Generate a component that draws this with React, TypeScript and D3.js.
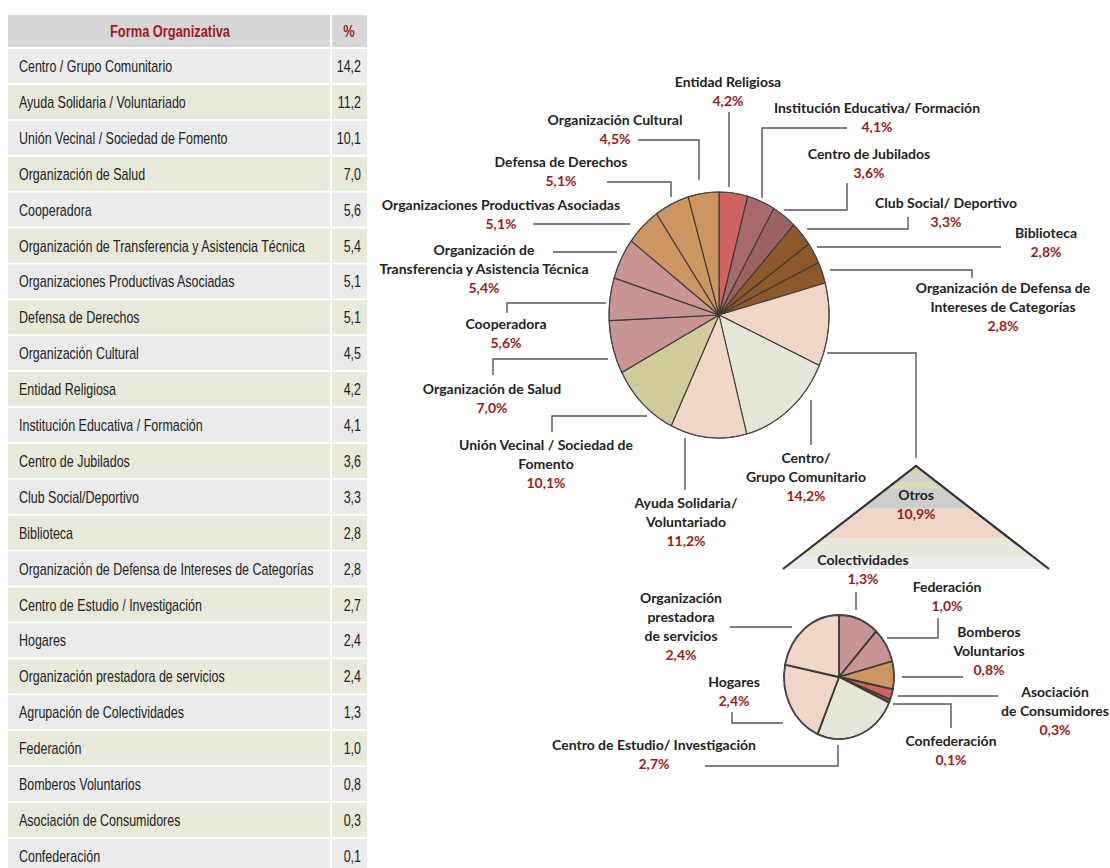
import React from "react";
import * as d3 from "d3";

// ---------- DATA ----------
const tableLabels = [
  "Centro / Grupo Comunitario",
  "Ayuda Solidaria / Voluntariado",
  "Unión Vecinal / Sociedad de Fomento",
  "Organización de Salud",
  "Cooperadora",
  "Organización de Transferencia y Asistencia Técnica",
  "Organizaciones Productivas Asociadas",
  "Defensa de Derechos",
  "Organización Cultural",
  "Entidad Religiosa",
  "Institución Educativa / Formación",
  "Centro de Jubilados",
  "Club Social/Deportivo",
  "Biblioteca",
  "Organización de Defensa de Intereses de Categorías",
  "Centro de Estudio / Investigación",
  "Hogares",
  "Organización prestadora de servicios",
  "Agrupación de Colectividades",
  "Federación",
  "Bomberos Voluntarios",
  "Asociación de Consumidores",
  "Confederación",
];
const tableValues = [14.2, 11.2, 10.1, 7.0, 5.6, 5.4, 5.1, 5.1, 4.5, 4.2, 4.1, 3.6, 3.3, 2.8, 2.8, 2.7, 2.4, 2.4, 1.3, 1.0, 0.8, 0.3, 0.1];

const mainCategories = [
  "Entidad Religiosa",
  "Institución Educativa / Formación",
  "Centro de Jubilados",
  "Club Social / Deportivo",
  "Biblioteca",
  "Organización de Defensa de Intereses de Categorías",
  "Otros",
  "Centro / Grupo Comunitario",
  "Ayuda Solidaria / Voluntariado",
  "Unión Vecinal / Sociedad de Fomento",
  "Organización de Salud",
  "Cooperadora",
  "Organización de Transferencia y Asistencia Técnica",
  "Organizaciones Productivas Asociadas",
  "Defensa de Derechos",
  "Organización Cultural",
];
const mainValues = [4.2, 4.1, 3.6, 3.3, 2.8, 2.8, 10.9, 14.2, 11.2, 10.1, 7.0, 5.6, 5.4, 5.1, 5.1, 4.5];

const otrosCategories = [
  "Colectividades",
  "Federación",
  "Bomberos Voluntarios",
  "Asociación de Consumidores",
  "Confederación",
  "Centro de Estudio / Investigación",
  "Hogares",
  "Organización prestadora de servicios",
];
const otrosValues = [1.3, 1.0, 0.8, 0.3, 0.1, 2.7, 2.4, 2.4];

// ---------- STYLES / LAYOUT ----------
const RED = "#d06262";
const MAUVE1 = "#a86a6a";
const MAUVE2 = "#9c6262";
const BROWN = "#8e5a2c";
const PEACH = "#f0d6c7";
const GREY_GREEN = "#e6e6d8";
const OLIVE = "#cfcb9b";
const PINK = "#c99494";
const TAN = "#cc9562";

const mainColors = [RED, MAUVE1, MAUVE2, BROWN, BROWN, BROWN, PEACH, GREY_GREEN, PEACH, OLIVE, PINK, PINK, PINK, TAN, TAN, TAN];
const otrosColors = [PINK, PINK, TAN, RED, BROWN, GREY_GREEN, PEACH, PEACH];

const PCT_COLOR = "#9b1c1c";
const TXT_COLOR = "#222";
const LINE_COLOR = "#555";

const fmtPct = (v: number) => d3.format(".1f")(v).replace(".", ",") + "%";

type Ann = { i: number; x: number; y: number; lines: string[]; leader: [number, number][]; lh?: number };

const mainAnn: Ann[] = [
  { i: 0, x: 728, y: 87, lines: ["Entidad Religiosa"], leader: [[729, 112], [729, 187]] },
  { i: 1, x: 877, y: 113, lines: ["Institución Educativa/ Formación"], leader: [[847, 128], [762, 128], [762, 198]] },
  { i: 2, x: 869, y: 159, lines: ["Centro de Jubilados"], leader: [[847, 183], [847, 210], [784, 210]] },
  { i: 3, x: 946, y: 208, lines: ["Club Social/ Deportivo"], leader: [[908, 217], [908, 229], [807, 229]] },
  { i: 4, x: 1046, y: 238, lines: ["Biblioteca"], leader: [[1001, 247], [817, 247]] },
  { i: 5, x: 1003, y: 293, lines: ["Organización de Defensa de", "Intereses de Categorías"], leader: [[972, 278], [972, 270], [830, 270]] },
  { i: 7, x: 806, y: 463, lines: ["Centro/", "Grupo Comunitario"], leader: [[811, 400], [811, 445]] },
  { i: 8, x: 686, y: 508, lines: ["Ayuda Solidaria/", "Voluntariado"], leader: [[685, 438], [685, 490]] },
  { i: 9, x: 546, y: 450, lines: ["Unión Vecinal / Sociedad de", "Fomento"], leader: [[552, 432], [552, 416], [647, 416]] },
  { i: 10, x: 492, y: 394, lines: ["Organización de Salud"], leader: [[493, 375], [493, 359], [608, 359]] },
  { i: 11, x: 506, y: 329, lines: ["Cooperadora"], leader: [[507, 313], [507, 303], [606, 303]] },
  { i: 12, x: 484, y: 255, lines: ["Organización de", "Transferencia y Asistencia Técnica"], leader: [[553, 252], [617, 252]] },
  { i: 13, x: 501, y: 210, lines: ["Organizaciones Productivas Asociadas"], leader: [[533, 224], [630, 224]] },
  { i: 14, x: 561, y: 167, lines: ["Defensa de Derechos"], leader: [[607, 182], [671, 182], [671, 197]] },
  { i: 15, x: 615, y: 125, lines: ["Organización Cultural"], leader: [[638, 140], [699, 140], [699, 180]] },
];

const otrosAnn: Ann[] = [
  { i: 0, x: 863, y: 565, lines: ["Colectividades"], leader: [[856, 592], [856, 610]] },
  { i: 1, x: 947, y: 592, lines: ["Federación"], leader: [[938, 618], [938, 638], [887, 638]] },
  { i: 2, x: 989, y: 637, lines: ["Bomberos", "Voluntarios"], leader: [[963, 677], [902, 677]] },
  { i: 3, x: 1055, y: 697, lines: ["Asociación", "de Consumidores"], leader: [[998, 696], [898, 696]] },
  { i: 4, x: 951, y: 746, lines: ["Confederación"], leader: [[951, 728], [951, 704], [893, 704]] },
  { i: 5, x: 654, y: 750, lines: ["Centro de Estudio/ Investigación"], leader: [[705, 766], [838, 766], [838, 745]] },
  { i: 6, x: 734, y: 687, lines: ["Hogares"], leader: [[732, 712], [732, 723], [783, 723]] },
  { i: 7, x: 681, y: 603, lines: ["Organización", "prestadora", "de servicios"], leader: [[730, 627], [792, 627]] },
];

const mainPie = { cx: 719, cy: 315, rx: 110, ry: 123 };
const smallPie = { cx: 839, cy: 677, rx: 55, ry: 62 };
const tri = { apexX: 916, apexY: 466, baseY: 569, halfW: 133 };
const triBands: [number, string][] = [
  [0.0, "#d8d4a6"],
  [0.08, "#cfcfcf"],
  [0.15, "#dcd9b5"],
  [0.22, "#cdcdcd"],
  [0.41, PEACH],
  [0.70, "#e8e8d8"],
  [0.88, "#ececec"],
];

const LABEL_FONT = "Lato, 'Open Sans', sans-serif";
const LABEL_SIZE = 14;
const TABLE_FONT = "'Liberation Sans', Arial, sans-serif";
const TABLE_SCALE = 0.78;

function Label({ a, value }: { a: Ann; value: number }) {
  const lh = a.lh ?? 19;
  return (
    <g>
      <polyline points={a.leader.map((p) => p.join(",")).join(" ")} fill="none" stroke={LINE_COLOR} strokeWidth={1.4} />
      <text x={a.x} y={a.y} textAnchor="middle" fontFamily={LABEL_FONT} fontWeight={700} fontSize={LABEL_SIZE} fill={TXT_COLOR}>
        {a.lines.map((l, k) => (
          <tspan key={k} x={a.x} y={a.y + k * lh}>{l}</tspan>
        ))}
      </text>
      <text x={a.x} y={a.y + a.lines.length * lh} textAnchor="middle" fontFamily={LABEL_FONT} fontWeight={700} fontSize={LABEL_SIZE} fill={PCT_COLOR}>
        {fmtPct(value)}
      </text>
    </g>
  );
}

function Pie({ values, colors, geo, strokeW }: { values: number[]; colors: string[]; geo: { cx: number; cy: number; rx: number; ry: number }; strokeW: number }) {
  const arcs = d3.pie<number>().sort(null).value((d) => d)(values);
  const arc = d3.arc<d3.PieArcDatum<number>>().innerRadius(0).outerRadius(geo.rx);
  return (
    <g transform={`translate(${geo.cx},${geo.cy}) scale(1,${geo.ry / geo.rx})`}>
      {arcs.map((a, i) => (
        <path key={i} d={arc(a) || ""} fill={colors[i]} stroke="#3a3a3a" strokeWidth={strokeW} vectorEffect="non-scaling-stroke" strokeLinejoin="round" />
      ))}
      <ellipse cx={0} cy={0} rx={geo.rx} ry={geo.rx} fill="none" stroke="#4a4a4a" strokeWidth={1} vectorEffect="non-scaling-stroke" />
    </g>
  );
}

function CondText({ x, y, anchor, bold, color, size, children }: { x: number; y: number; anchor?: "start" | "middle" | "end"; bold?: boolean; color: string; size: number; children: React.ReactNode }) {
  return (
    <text transform={`translate(${x},${y}) scale(${TABLE_SCALE},1)`} textAnchor={anchor ?? "start"} fontFamily={TABLE_FONT} fontWeight={bold ? 700 : 400} fontSize={size} fill={color}>
      {children}
    </text>
  );
}

export default function App() {
  const rowY = d3.scaleLinear().domain([0, 1]).range([49, 49 + 35.9]);
  const rowH = 34;
  const tblX0 = 8, tblX1 = 367, divX = 331;

  const triH = tri.baseY - tri.apexY;
  const triPath = `M${tri.apexX},${tri.apexY} L${tri.apexX + tri.halfW},${tri.baseY} L${tri.apexX - tri.halfW},${tri.baseY} Z`;

  return (
    <svg width={1110} height={868} style={{ position: "absolute", left: 0, top: 0, background: "#fff" }}>
      {/* Table */}
      <g>
        <rect x={tblX0} y={15} width={tblX1 - tblX0} height={32} fill="#d6d6d6" />
        <line x1={divX} x2={divX} y1={15} y2={47} stroke="#fff" strokeWidth={2} />
        <CondText x={170} y={36.5} anchor="middle" bold color={PCT_COLOR} size={16.5}>Forma Organizativa</CondText>
        <CondText x={349} y={36.5} anchor="middle" bold color={PCT_COLOR} size={16.5}>%</CondText>
        {tableLabels.map((lab, i) => {
          const y = rowY(i);
          return (
            <g key={i}>
              <rect x={tblX0} y={y} width={tblX1 - tblX0} height={rowH} fill={i % 2 === 0 ? "#ebebeb" : "#e9e9da"} />
              <line x1={divX} x2={divX} y1={y} y2={y + rowH} stroke="#fff" strokeWidth={2} />
              <CondText x={19} y={y + rowH / 2 + 6} color={TXT_COLOR} size={16}>{lab}</CondText>
              <CondText x={361} y={y + rowH / 2 + 6} anchor="end" color={TXT_COLOR} size={16}>
                {d3.format(".1f")(tableValues[i]).replace(".", ",")}
              </CondText>
            </g>
          );
        })}
      </g>

      {/* Leader from Otros slice to triangle */}
      <polyline points={`827,353 916,353 916,${tri.apexY - 8}`} fill="none" stroke={LINE_COLOR} strokeWidth={1.4} />

      {/* Main pie */}
      <Pie values={mainValues} colors={mainColors} geo={mainPie} strokeW={1.1} />
      {mainAnn.map((a) => (
        <Label key={a.i} a={a} value={mainValues[a.i]} />
      ))}

      {/* Triangle */}
      <defs>
        <clipPath id="triClip">
          <path d={triPath} />
        </clipPath>
      </defs>
      <g clipPath="url(#triClip)">
        {triBands.map(([f, c], k) => {
          const next = k + 1 < triBands.length ? triBands[k + 1][0] : 1;
          return <rect key={k} x={tri.apexX - tri.halfW} y={tri.apexY + f * triH} width={tri.halfW * 2} height={(next - f) * triH + 0.5} fill={c} />;
        })}
      </g>
      <path d={`M${tri.apexX - tri.halfW},${tri.baseY} L${tri.apexX},${tri.apexY} L${tri.apexX + tri.halfW},${tri.baseY}`} fill="none" stroke="#333" strokeWidth={2.2} strokeLinejoin="miter" />
      <text x={916} y={500} textAnchor="middle" fontFamily={LABEL_FONT} fontWeight={700} fontSize={LABEL_SIZE} fill={TXT_COLOR}>Otros</text>
      <text x={916} y={519} textAnchor="middle" fontFamily={LABEL_FONT} fontWeight={700} fontSize={LABEL_SIZE} fill={PCT_COLOR}>{fmtPct(mainValues[6])}</text>

      {/* Small pie */}
      <Pie values={otrosValues} colors={otrosColors} geo={smallPie} strokeW={1.8} />
      {otrosAnn.map((a) => (
        <Label key={a.i} a={a} value={otrosValues[a.i]} />
      ))}
    </svg>
  );
}
